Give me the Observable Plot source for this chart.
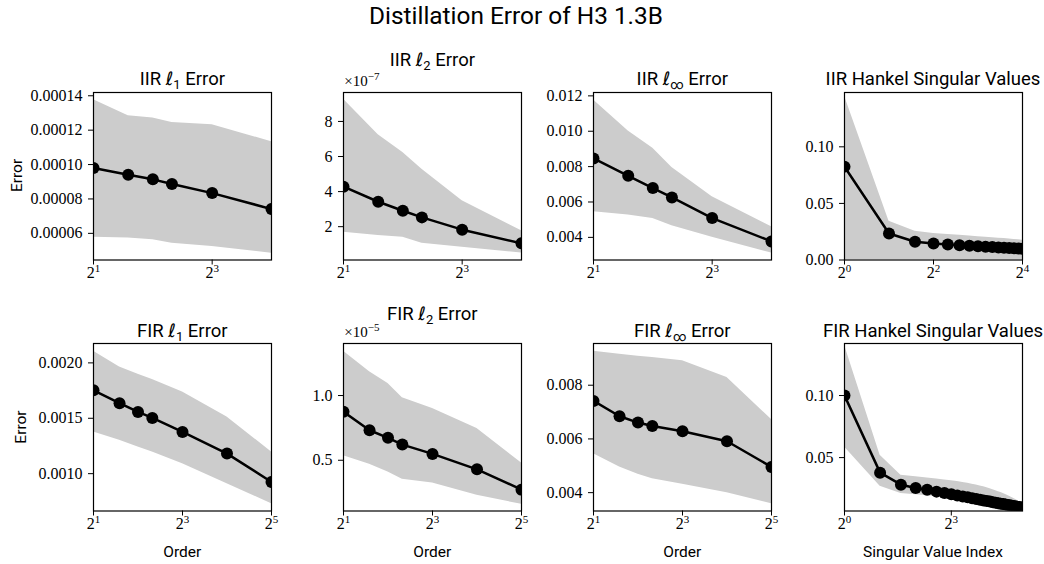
<!DOCTYPE html>
<html>
<head>
<meta charset="utf-8">
<script src="https://cdn.jsdelivr.net/npm/d3@7"></script>
<script src="https://cdn.jsdelivr.net/npm/@observablehq/plot@0.6"></script>
<style>
  html, body { margin: 0; padding: 0; background: white; }
  #fig { position: relative; width: 1044px; height: 564px; overflow: hidden; background: white; }
</style>
</head>
<body>
<div id="fig"></div>
<script>
// ---------------- data ----------------
const figTitle = "Distillation Error of H3 1.3B";

const orderIIR = [2, 3, 4, 5, 8, 16];
const orderFIR = [2, 3, 4, 5, 8, 16, 32];
const indexIIR = [1, 2, 3, 4, 5, 6, 7, 8, 9, 10, 11, 12, 13, 14, 15, 16];
const indexFIR = [1, 2, 3, 4, 5, 6, 7, 8, 9, 10, 11, 12, 13, 14, 15, 16,
                  17, 18, 19, 20, 21, 22, 23, 24, 25, 26, 27, 28, 29, 30, 31, 32];

// IIR l1
const iirL1Mean = [0.0000980, 0.0000941, 0.0000914, 0.0000887, 0.0000834, 0.0000741];
const iirL1Hi   = [0.0001377, 0.0001284, 0.0001270, 0.0001245, 0.0001231, 0.0001133];
const iirL1Lo   = [0.0000577, 0.0000573, 0.0000563, 0.0000542, 0.0000524, 0.0000484];
// IIR l2
const iirL2Mean = [4.28e-7, 3.42e-7, 2.91e-7, 2.53e-7, 1.83e-7, 1.05e-7];
const iirL2Hi   = [9.27e-7, 7.24e-7, 6.23e-7, 5.28e-7, 3.48e-7, 1.77e-7];
const iirL2Lo   = [1.68e-7, 1.49e-7, 1.39e-7, 1.05e-7, 0.82e-7, 0.50e-7];
// IIR linf
const iirLinfMean = [0.00846, 0.00748, 0.00679, 0.00626, 0.00509, 0.00377];
const iirLinfHi   = [0.01177, 0.01002, 0.00904, 0.00795, 0.00630, 0.00460];
const iirLinfLo   = [0.00545, 0.00526, 0.00507, 0.00466, 0.00400, 0.00311];
// IIR Hankel singular values
const iirHsvMean = [0.0825, 0.0234, 0.0161, 0.0146, 0.0137, 0.0130, 0.0125, 0.0121,
                    0.0117, 0.0114, 0.0111, 0.0108, 0.0106, 0.0104, 0.0102, 0.0100];
const iirHsvHi   = [0.1450, 0.0342, 0.0255, 0.0235, 0.0225, 0.0218, 0.0212, 0.0206,
                    0.0201, 0.0197, 0.0193, 0.0189, 0.0185, 0.0181, 0.0178, 0.0175];
const iirHsvLo   = [0, 0, 0, 0, 0, 0, 0, 0, 0, 0, 0, 0, 0, 0, 0, 0];

// FIR l1
const firL1Mean = [0.001753, 0.001636, 0.001557, 0.001503, 0.001377, 0.001181, 0.000925];
const firL1Hi   = [0.002105, 0.001964, 0.001898, 0.001849, 0.001738, 0.001512, 0.001196];
const firL1Lo   = [0.001377, 0.001301, 0.001241, 0.001196, 0.001090, 0.000910, 0.000729];
// FIR l2
const firL2Mean = [0.874e-5, 0.732e-5, 0.673e-5, 0.621e-5, 0.549e-5, 0.430e-5, 0.273e-5];
const firL2Hi   = [1.343e-5, 1.183e-5, 1.093e-5, 0.982e-5, 0.899e-5, 0.745e-5, 0.479e-5];
const firL2Lo   = [0.534e-5, 0.469e-5, 0.410e-5, 0.353e-5, 0.325e-5, 0.229e-5, 0.160e-5];
// FIR linf
const firLinfMean = [0.007416, 0.006845, 0.006609, 0.006484, 0.006286, 0.005913, 0.004957];
const firLinfHi   = [0.009267, 0.009155, 0.009080, 0.009030, 0.008907, 0.008286, 0.006720];
const firLinfLo   = [0.005453, 0.004957, 0.004683, 0.004522, 0.004310, 0.004000, 0.003590];
// FIR Hankel singular values
const firHsvMean = [0.1000, 0.0379, 0.0282, 0.0255, 0.0242, 0.0226, 0.0215, 0.0204,
                    0.0195, 0.0187, 0.0180, 0.0173, 0.0167, 0.0161, 0.0155, 0.0150,
                    0.0146, 0.0141, 0.0137, 0.0133, 0.0129, 0.0126, 0.0122, 0.0119,
                    0.0116, 0.0113, 0.0110, 0.0107, 0.0104, 0.0102, 0.0099, 0.0097];
const firHsvHi   = [0.1406, 0.0519, 0.0357, 0.0345, 0.0336, 0.0328, 0.0320, 0.0313,
                    0.0307, 0.0300, 0.0293, 0.0286, 0.0279, 0.0272, 0.0265, 0.0258,
                    0.0250, 0.0242, 0.0234, 0.0226, 0.0218, 0.0210, 0.0202, 0.0194,
                    0.0186, 0.0178, 0.0170, 0.0162, 0.0154, 0.0145, 0.0136, 0.0126];
const firHsvLo   = [0.0586, 0.0269, 0.0210, 0.0200, 0.0193, 0.0187, 0.0181, 0.0176,
                    0.0170, 0.0164, 0.0158, 0.0152, 0.0146, 0.0140, 0.0134, 0.0129,
                    0.0124, 0.0120, 0.0116, 0.0112, 0.0108, 0.0105, 0.0101, 0.0098,
                    0.0095, 0.0092, 0.0089, 0.0086, 0.0083, 0.0080, 0.0077, 0.0074];

// tick values
const xTicksOrderIIR = [2, 8];
const xTicksOrderFIR = [2, 8, 32];
const xTicksIndexIIR = [1, 4, 16];
const xTicksIndexFIR = [1, 8];
const yTicksIirL1 = [0.00006, 0.00008, 0.00010, 0.00012, 0.00014];
const yTicksIirL2 = [2e-7, 4e-7, 6e-7, 8e-7];
const yTicksIirLinf = [0.004, 0.006, 0.008, 0.010, 0.012];
const yTicksIirHsv = [0, 0.05, 0.10];
const yTicksFirL1 = [0.0010, 0.0015, 0.0020];
const yTicksFirL2 = [0.5e-5, 1.0e-5];
const yTicksFirLinf = [0.004, 0.006, 0.008];
const yTicksFirHsv = [0.05, 0.10];

// ---------------- layout ----------------
const FW = 178, FH = 167.5;
const colLeft = [93.3, 343.3, 593.3, 844];
const rowTop = [91.7, 343.3];
const ML = 80, MR = 12, MT = 12, MB = 30;
const serif = "'Liberation Serif', 'DejaVu Serif', serif";
const sans = "Roboto, 'DejaVu Sans', sans-serif";

const panels = [
  {row: 0, col: 0, x: orderIIR, mean: iirL1Mean, hi: iirL1Hi, lo: iirL1Lo, xDomain: [2, 16], xTicks: xTicksOrderIIR,
   yDomain: [0.0000445, 0.0001419], yTicks: yTicksIirL1, yFmt: d => d.toFixed(5)},
  {row: 0, col: 1, x: orderIIR, mean: iirL2Mean, hi: iirL2Hi, lo: iirL2Lo, xDomain: [2, 16], xTicks: xTicksOrderIIR,
   yDomain: [0.10e-7, 9.65e-7], yTicks: yTicksIirL2, yFmt: d => String(Math.round(d / 1e-7))},
  {row: 0, col: 2, x: orderIIR, mean: iirLinfMean, hi: iirLinfHi, lo: iirLinfLo, xDomain: [2, 16], xTicks: xTicksOrderIIR,
   yDomain: [0.00272, 0.01219], yTicks: yTicksIirLinf, yFmt: d => d.toFixed(3)},
  {row: 0, col: 3, x: indexIIR, mean: iirHsvMean, hi: iirHsvHi, lo: iirHsvLo, xDomain: [1, 16], xTicks: xTicksIndexIIR,
   yDomain: [0, 0.148], yTicks: yTicksIirHsv, yFmt: d => d.toFixed(2)},
  {row: 1, col: 0, x: orderFIR, mean: firL1Mean, hi: firL1Hi, lo: firL1Lo, xDomain: [2, 32], xTicks: xTicksOrderFIR,
   yDomain: [0.000663, 0.002175], yTicks: yTicksFirL1, yFmt: d => d.toFixed(4)},
  {row: 1, col: 1, x: orderFIR, mean: firL2Mean, hi: firL2Hi, lo: firL2Lo, xDomain: [2, 32], xTicks: xTicksOrderFIR,
   yDomain: [0.108e-5, 1.402e-5], yTicks: yTicksFirL2, yFmt: d => (d / 1e-5).toFixed(1)},
  {row: 1, col: 2, x: orderFIR, mean: firLinfMean, hi: firLinfHi, lo: firLinfLo, xDomain: [2, 32], xTicks: xTicksOrderFIR,
   yDomain: [0.003317, 0.009553], yTicks: yTicksFirLinf, yFmt: d => d.toFixed(3)},
  {row: 1, col: 3, x: indexFIR, mean: firHsvMean, hi: firHsvHi, lo: firHsvLo, xDomain: [1, 32], xTicks: xTicksIndexFIR,
   yDomain: [0.007, 0.1419], yTicks: yTicksFirHsv, yFmt: d => d.toFixed(2)}
];

const fig = document.getElementById("fig");

for (const p of panels) {
  const data = p.x.map((x, i) => ({x, m: p.mean[i], hi: p.hi[i], lo: p.lo[i]}));
  const chart = Plot.plot({
    width: ML + FW + MR,
    height: MT + FH + MB,
    marginLeft: ML, marginRight: MR, marginTop: MT, marginBottom: MB,
    style: {background: "transparent", fontFamily: serif, fontSize: "16px", color: "black", overflow: "visible"},
    x: {type: "log", base: 2, domain: p.xDomain, ticks: p.xTicks,
        tickFormat: d => "2^" + Math.round(Math.log2(d)), tickSize: 5, tickPadding: 2, label: null},
    y: {domain: p.yDomain, ticks: p.yTicks, tickFormat: p.yFmt, tickSize: 5, tickPadding: 6, label: null},
    marks: [
      Plot.areaY(data, {x: "x", y1: "lo", y2: "hi", fill: "#cccccc", clip: true}),
      Plot.line(data, {x: "x", y: "m", stroke: "black", strokeWidth: 2.5, clip: true}),
      Plot.dot(data, {x: "x", y: "m", r: 6, fill: "black", stroke: "none", clip: true}),
      Plot.frame({stroke: "black", strokeWidth: 1.2})
    ]
  });
  chart.style.position = "absolute";
  chart.style.maxWidth = "none";
  chart.style.left = (colLeft[p.col] - ML) + "px";
  chart.style.top = (rowTop[p.row] - MT) + "px";
  chart.querySelectorAll("text").forEach(t => {
    t.setAttribute("font-family", serif);
    t.style.fontFamily = serif;
    t.setAttribute("font-variant", "normal");
  });
  // superscript exponent on x tick labels (2^n)
  chart.querySelectorAll('[aria-label="x-axis tick label"] text').forEach(t => {
    const s = t.textContent;
    const k = s.indexOf("^");
    if (k < 0) return;
    t.textContent = "";
    const ns = "http://www.w3.org/2000/svg";
    const a = document.createElementNS(ns, "tspan");
    a.textContent = s.slice(0, k);
    const b = document.createElementNS(ns, "tspan");
    b.textContent = s.slice(k + 1);
    b.setAttribute("dy", "-6");
    b.setAttribute("font-size", "11");
    t.appendChild(a); t.appendChild(b);
  });
  fig.appendChild(chart);
}

// ---------------- text overlay ----------------
const ov = d3.select(fig).append("svg")
  .attr("width", 1044).attr("height", 564)
  .style("position", "absolute").style("left", "0px").style("top", "0px")
  .style("pointer-events", "none");

ov.append("text").attr("x", 516).attr("y", 23.5).attr("text-anchor", "middle")
  .attr("font-family", sans).attr("font-size", 24.4).attr("fill", "black").text(figTitle);

const panelTitles = [
  {row: 0, col: 0, pre: "IIR ", sub: "1", post: " Error", lift: 0},
  {row: 0, col: 1, pre: "IIR ", sub: "2", post: " Error", lift: 18.5},
  {row: 0, col: 2, pre: "IIR ", sub: "\u221E", post: " Error", lift: 0},
  {row: 0, col: 3, pre: "IIR Hankel Singular Values", sub: null, post: "", lift: 0},
  {row: 1, col: 0, pre: "FIR ", sub: "1", post: " Error", lift: 0},
  {row: 1, col: 1, pre: "FIR ", sub: "2", post: " Error", lift: 17},
  {row: 1, col: 2, pre: "FIR ", sub: "\u221E", post: " Error", lift: 0},
  {row: 1, col: 3, pre: "FIR Hankel Singular Values", sub: null, post: "", lift: 0}
];
for (const t of panelTitles) {
  const cx = colLeft[t.col] + FW / 2;
  const by = rowTop[t.row] - 6.8 - t.lift;
  const txt = ov.append("text").attr("x", cx).attr("y", by).attr("text-anchor", "middle")
    .attr("font-family", sans).attr("font-size", 18.5).attr("fill", "black");
  txt.append("tspan").text(t.pre);
  if (t.sub !== null) {
    txt.append("tspan").attr("font-family", "'DejaVu Sans', sans-serif").attr("font-style", "italic").text("\u2113");
    txt.append("tspan").attr("font-size", 13).attr("dy", 4).text(t.sub);
    txt.append("tspan").attr("dy", -4).text(t.post);
  }
}

// offset (scale) texts
const offsets = [{row: 0, col: 1, exp: "\u22127"}, {row: 1, col: 1, exp: "\u22125"}];
for (const o of offsets) {
  const txt = ov.append("text").attr("x", colLeft[o.col] + 1).attr("y", rowTop[o.row] - 6)
    .attr("font-family", serif).attr("font-size", 15).attr("fill", "black");
  txt.append("tspan").text("\u00D710");
  txt.append("tspan").attr("font-size", 11).attr("dy", -6).text(o.exp);
}

// axis labels
const yLab = [{row: 0, x: 22}, {row: 1, x: 26}];
for (const l of yLab) {
  const cy = rowTop[l.row] + FH / 2;
  ov.append("text").attr("transform", `translate(${l.x},${cy}) rotate(-90)`)
    .attr("text-anchor", "middle").attr("font-family", sans).attr("font-size", 15.5).attr("fill", "black").text("Error");
}
const xLab = [{col: 0, t: "Order"}, {col: 1, t: "Order"}, {col: 2, t: "Order"}, {col: 3, t: "Singular Value Index"}];
for (const l of xLab) {
  ov.append("text").attr("x", colLeft[l.col] + FW / 2).attr("y", 556.5).attr("text-anchor", "middle")
    .attr("font-family", sans).attr("font-size", 15.5).attr("fill", "black").text(l.t);
}
</script>
</body>
</html>
